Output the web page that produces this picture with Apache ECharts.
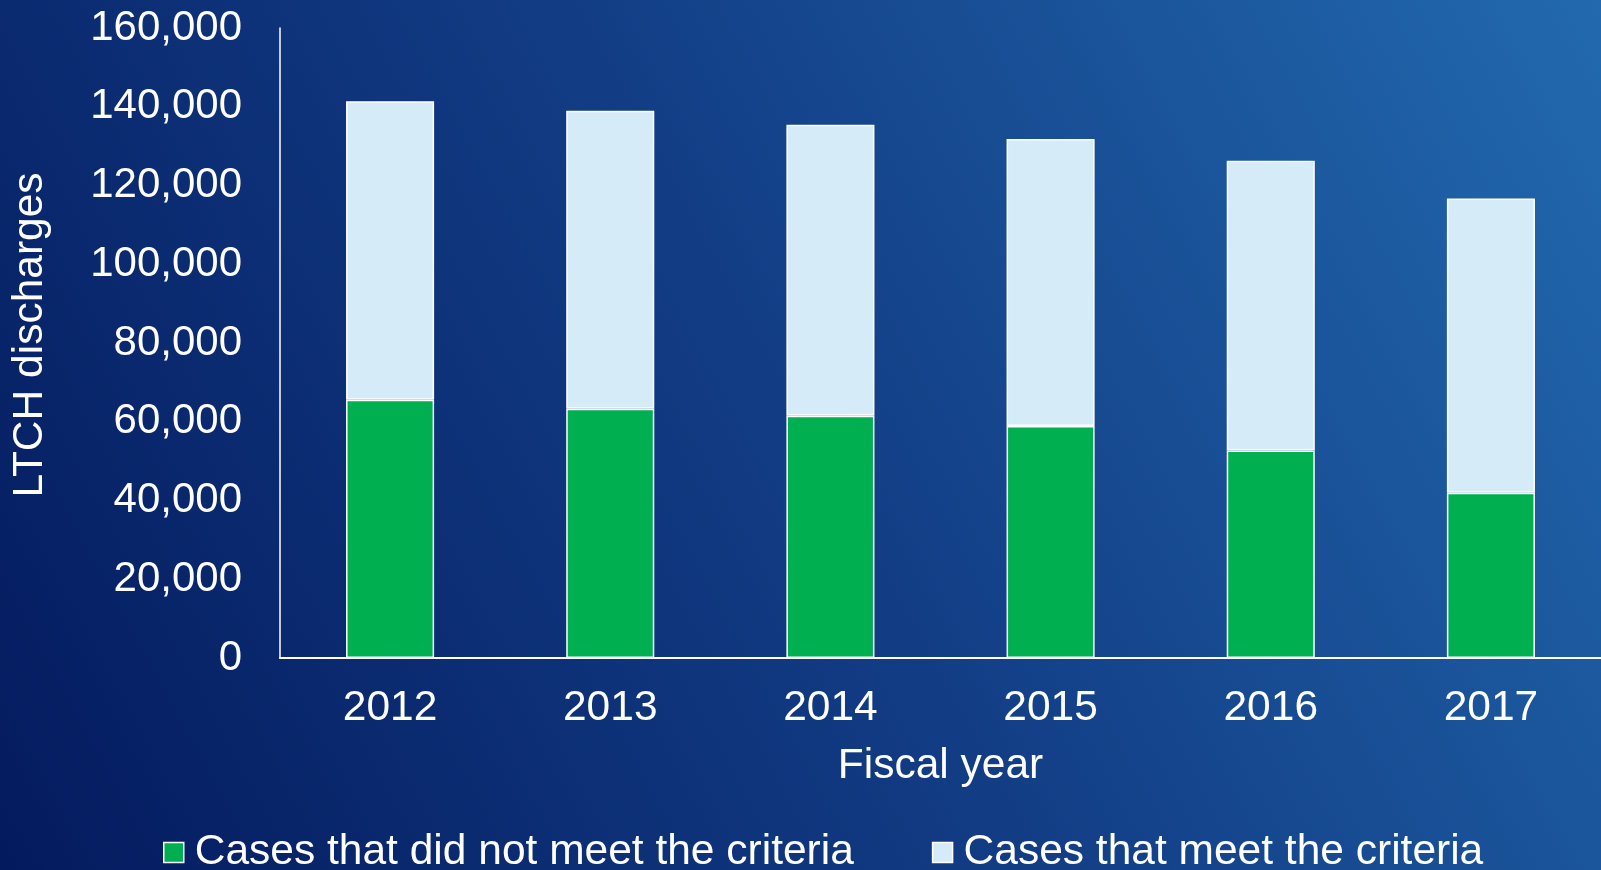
<!DOCTYPE html>
<html>
<head>
<meta charset="utf-8">
<script src="https://cdn.jsdelivr.net/npm/echarts@6/dist/echarts.min.js"></script>
<style>
  html, body { margin: 0; padding: 0; overflow: hidden; }
  #chart { width: 1601px; height: 870px; }
</style>
</head>
<body>
<div id="chart"></div>
<script>
// 数据
const years = ['2012', '2013', '2014', '2015', '2016', '2017'];
const notMet = [65600, 63300, 61500, 58900, 52700, 42000];
const met = [75800, 75700, 73900, 72900, 73600, 74700];
const yTicks = [0, 20000, 40000, 60000, 80000, 100000, 120000, 140000, 160000];

const fontFamily = 'Liberation Sans, Arial, Helvetica, sans-serif';

const chart = echarts.init(document.getElementById('chart'));

const option = {
    backgroundColor: new echarts.graphic.LinearGradient(0, 1, 1, 0, [
        { offset: 0, color: '#041a5e' },
        { offset: 0.5, color: '#123d85' },
        { offset: 1, color: '#2269ae' }
    ]),
    textStyle: { fontFamily: fontFamily, color: '#ffffff' },
    animation: false,
    grid: {
        left: 280,
        right: -2,
        top: 28,
        bottom: 212
    },
    legend: {
        left: 158,
        bottom: -9,
        itemWidth: 20,
        itemHeight: 20,
        itemGap: 78,
        icon: 'rect',
        itemStyle: { borderColor: '#ffffff', borderWidth: 1.5 },
        textStyle: {
            color: '#ffffff',
            fontSize: 42.5,
            fontFamily: fontFamily,
            padding: [0, 0, 0, 6]
        },
        data: ['Cases that did not meet the criteria', 'Cases that meet the criteria']
    },
    xAxis: {
        type: 'category',
        data: years,
        name: 'Fiscal year',
        nameLocation: 'middle',
        nameGap: 87,
        nameTextStyle: { color: '#ffffff', fontSize: 42.5, fontFamily: fontFamily },
        axisLine: { lineStyle: { color: '#ffffff', width: 2 } },
        axisTick: { show: false },
        axisLabel: {
            color: '#ffffff',
            fontSize: 42.5,
            margin: 29,
            fontFamily: fontFamily
        }
    },
    yAxis: {
        type: 'value',
        min: yTicks[0],
        max: yTicks[yTicks.length - 1],
        interval: 20000,
        name: 'LTCH discharges',
        nameLocation: 'middle',
        nameGap: 228,
        nameRotate: 90,
        nameTextStyle: {
            color: '#ffffff',
            fontSize: 42.5,
            fontFamily: fontFamily,
            padding: [0, 0, 0, 16]
        },
        axisLine: { show: true, lineStyle: { color: '#ffffff', width: 1.5 } },
        axisTick: { show: false },
        splitLine: { show: false },
        axisLabel: {
            color: '#ffffff',
            fontSize: 42,
            margin: 38,
            fontFamily: fontFamily,
            formatter: function (v) {
                return v.toLocaleString('en-US');
            }
        }
    },
    series: [
        {
            name: 'Cases that did not meet the criteria',
            type: 'bar',
            stack: 'total',
            barWidth: '40%',
            data: notMet,
            itemStyle: { color: '#00b050', borderColor: '#ffffff', borderWidth: 1.5 }
        },
        {
            name: 'Cases that meet the criteria',
            type: 'bar',
            stack: 'total',
            barWidth: '40%',
            data: met,
            itemStyle: { color: '#d6ebf8', borderColor: '#ffffff', borderWidth: 1.5 }
        }
    ]
};

chart.setOption(option);

window.addEventListener('resize', () => {
    chart.resize();
});
</script>
</body>
</html>
